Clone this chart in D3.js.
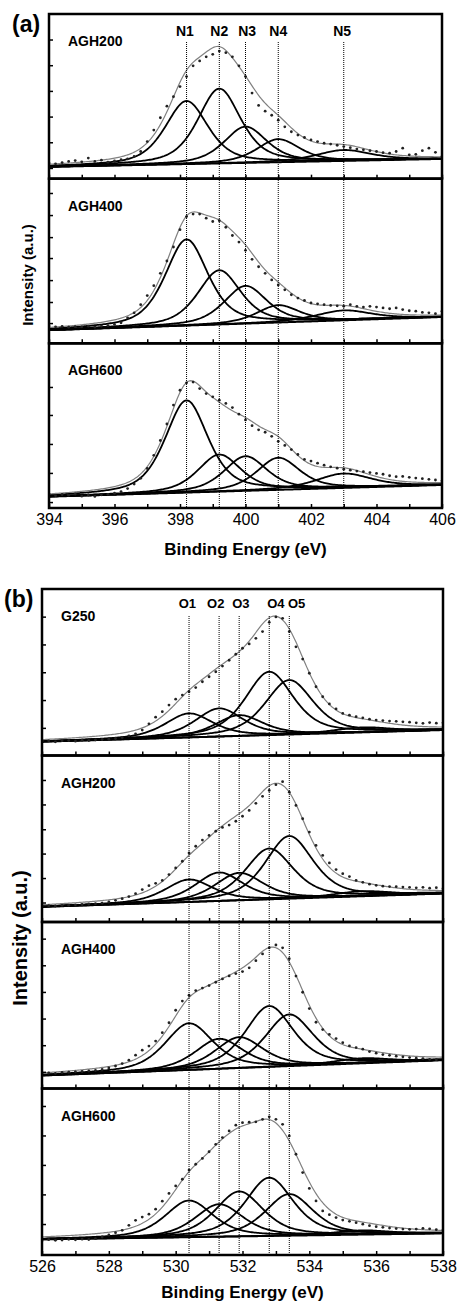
<!DOCTYPE html>
<html>
<head>
<meta charset="utf-8">
<script src="https://cdnjs.cloudflare.com/ajax/libs/d3/7.8.5/d3.min.js"></script>
<style>
body{margin:0;background:#fff;}
text{font-family:"Liberation Sans",Arial,sans-serif;fill:#000;}
</style>
</head>
<body>
<script>
// ---------- N 1s (panel a) : measured points every 0.2 eV from 394 eV ----------
var nStart = 394, nEnd = 406, nStep = 0.2;
var nLabels = ['N1','N2','N3','N4','N5'];
var nLabelPos = [398.15, 399.2, 400.05, 401.0, 402.95];
var nCenters = [398.2, 399.2, 400.0, 401.0, 403.0];
var nFwhm = [1.55, 1.55, 1.55, 1.55, 2.0];

var agh200N = [9.5,9.0,9.8,10.5,11.0,10.2,12.5,10.5,11.2,10.0,10.8,11.5,12.0,13.5,16.5,22.5,29.5,37.0,44.0,49.8,
  55.9,62.0,68.5,71.5,74.0,75.5,77.5,76.5,74.0,68.5,62.0,52.0,44.5,41.0,38.5,35.5,31.5,28.5,26.5,25.0,
  23.5,22.5,21.5,21.0,20.3,19.5,18.8,18.0,17.5,17.0,16.5,15.8,15.5,16.5,18.5,14.5,14.8,17.0,18.5,16.0,13.5];
var agh400N = [10.5,10.0,10.3,9.8,10.2,10.0,10.4,9.9,10.5,10.8,11.5,12.5,15.5,18.5,23.5,29.0,35.0,42.5,50.0,58.5,
  69.0,77.0,78.5,78.5,76.0,74.0,74.5,70.5,65.5,61.5,56.5,51.0,46.5,42.5,38.5,35.5,32.5,29.5,27.5,26.0,
  24.5,24.0,23.5,23.0,22.8,22.5,23.5,22.5,22.0,22.5,22.0,21.5,21.0,21.5,20.5,19.8,19.5,18.8,18.5,18.0,19.5];
var agh600N = [8.5,7.5,8.2,7.8,8.5,7.2,7.9,7.0,8.0,8.3,9.0,10.0,11.8,14.5,18.0,24.0,32.0,41.0,51.0,62.5,
  71.5,76.0,76.5,72.5,69.5,67.5,65.5,63.5,61.0,57.0,53.5,50.0,47.5,46.0,43.5,40.5,38.0,35.5,32.5,29.5,
  28.5,27.2,26.0,25.0,24.2,23.6,23.0,22.4,22.0,21.5,21.0,20.5,19.6,19.0,19.2,18.6,18.2,17.8,17.4,17.0,16.5];

// fitted component heights (above background) and background end values
var agh200NPeaks = [38.3, 45.4, 22.0, 14.0, 6.6];
var agh400NPeaks = [52.3, 32.9, 22.9, 10.5, 6.0];
var agh600NPeaks = [56.0, 22.5, 21.0, 19.5, 8.7];
var agh200NBg = [7.2, 12.0];
var agh400NBg = [8.0, 16.0];
var agh600NBg = [6.9, 14.0];
var agh200NYTicks = [6.5, 22.1, 37.7, 53.3, 68.9, 84.5];
var agh400NYTicks = [12.3, 25.1, 38.4, 51.8, 64.5, 77.9, 91.3];
var agh600NYTicks = [3.6, 21.3, 38.9, 56.5, 73.5];

// ---------- O 1s (panel b) : measured points every 0.2 eV from 526 eV ----------
var oStart = 526, oEnd = 538, oStep = 0.2;
var oLabels = ['O1','O2','O3','O4','O5'];
var oLabelPos = [530.35, 531.2, 531.95, 533.0, 533.62];
var oCenters = [530.4, 531.3, 531.9, 532.8, 533.4, 535.6];
var oFwhm = [1.7, 1.7, 1.7, 1.7, 1.7, 2.0];

var g250O = [8.5,8.8,8.2,8.9,9.0,8.6,9.2,9.0,9.4,9.6,9.8,10.2,10.8,11.8,13.0,15.3,19.0,23.0,26.3,30.3,
  33.8,36.3,38.3,40.8,44.3,47.3,50.3,53.7,57.2,60.8,64.4,67.0,70.4,74.4,80.0,83.2,82.4,74.4,65.3,57.9,
  49.4,41.3,35.3,31.0,28.0,25.3,24.2,23.3,22.6,21.8,21.3,21.0,20.7,20.5,20.2,20.0,19.6,19.3,19.8,19.4,19.6];
var agh200O = [9.5,9.8,9.6,10.0,10.1,10.3,10.5,10.8,11.0,11.3,12.0,13.0,14.0,15.3,17.0,19.5,21.8,23.2,25.0,28.5,
  32.5,36.5,41.5,45.5,49.2,52.0,54.5,56.8,58.2,60.5,63.5,67.0,71.3,75.5,79.0,82.5,84.3,78.0,70.0,62.0,
  54.0,46.0,40.0,35.5,31.5,29.0,27.3,25.0,23.8,22.7,22.0,21.5,21.3,21.2,21.0,20.8,20.5,20.8,20.3,20.6,20.0];
var agh400O = [9.0,9.3,9.1,9.6,9.8,10.0,10.2,10.5,10.8,11.4,12.3,13.5,15.0,17.0,20.0,23.0,25.5,28.5,33.5,39.5,
  47.0,52.5,56.0,58.8,60.3,61.8,63.8,65.8,67.6,69.0,70.2,72.5,76.8,80.8,84.5,86.2,84.5,78.0,67.5,57.8,
  48.0,39.8,35.4,32.5,30.0,27.5,25.6,24.6,23.6,22.2,21.2,20.4,19.9,19.4,19.0,18.6,18.2,18.0,17.5,17.3,17.0];
var agh600O = [8.5,9.2,8.8,9.0,9.4,9.1,9.5,9.3,9.8,10.8,12.0,13.4,14.8,17.8,20.8,22.8,24.5,27.5,32.3,37.0,
  41.5,45.5,51.0,54.5,58.0,62.0,66.5,70.5,74.5,78.0,79.5,79.8,80.0,81.5,83.0,81.5,78.5,71.5,60.5,49.5,
  40.0,32.5,26.5,24.2,22.5,21.0,20.2,19.4,18.5,17.6,17.0,16.6,16.2,15.9,15.6,15.4,15.6,16.0,15.7,15.2,15.0];

var g250OPeaks = [14.4, 16.9, 12.5, 38.0, 32.7, 3.0];
var agh200OPeaks = [13.5, 17.1, 16.5, 30.5, 37.6, 3.0];
var agh400OPeaks = [28.0, 18.0, 18.5, 36.5, 31.0, 3.0];
var agh600OPeaks = [22.0, 19.5, 27.0, 35.0, 25.0, 2.5];
var g250OBg = [8.3, 15.3];
var agh200OBg = [9.1, 17.1];
var agh400OBg = [7.8, 17.0];
var agh600OBg = [9.4, 13.0];
var g250OYTicks = [16.6, 33.3, 50.0, 66.7, 83.4];
var agh200OYTicks = [11.7, 26.4, 41.1, 55.7, 70.6, 85.3];
var agh400OYTicks = [10.0, 26.0, 42.0, 58.0, 74.0, 90.0];
var agh600OYTicks = [18.6, 36.4, 54.1, 71.8, 89.5];

var ETA = 0.55; // lorentzian share of the line shape

var svg = d3.select('body').append('svg')
    .attr('width', 459)
    .attr('height', 1303);

function voigt(e, c, h, w){
  var d = (e - c) / w;
  return h * ((1 - ETA) * Math.exp(-4 * Math.LN2 * d * d) + ETA / (1 + 4 * d * d));
}

var clipId = 0;
function drawSub(x, top, bottom, name, data, start, step, centers, fwhm, peaks, bg, yticks, showLabels){
  var y = d3.scaleLinear().domain([0, 100]).range([bottom, top]);
  var e0 = x.domain()[0], e1 = x.domain()[1];
  var base = function(e){ return bg[0] + (bg[1] - bg[0]) * (e - e0) / (e1 - e0); };
  var grid = d3.range(e0, e1 + 0.001, 0.04);
  var line = d3.line().x(function(d){ return x(d[0]); }).y(function(d){ return y(d[1]); });

  clipId++;
  svg.append('clipPath').attr('id', 'clip' + clipId)
    .append('rect').attr('x', x.range()[0]).attr('y', top)
    .attr('width', x.range()[1] - x.range()[0]).attr('height', bottom - top);
  var g = svg.append('g').attr('clip-path', 'url(#clip' + clipId + ')');

  // background
  g.append('path').datum(grid.map(function(e){ return [e, base(e)]; }))
    .attr('d', line).attr('fill', 'none').attr('stroke', '#000').attr('stroke-width', 2);

  // components
  peaks.forEach(function(h, k){
    g.append('path')
      .datum(grid.map(function(e){ return [e, base(e) + voigt(e, centers[k], h, fwhm[k])]; }))
      .attr('d', line).attr('fill', 'none').attr('stroke', '#000').attr('stroke-width', 1.8);
  });

  // envelope
  g.append('path')
    .datum(grid.map(function(e){
      var s = base(e);
      peaks.forEach(function(h, k){ s += voigt(e, centers[k], h, fwhm[k]); });
      return [e, s];
    }))
    .attr('d', line).attr('fill', 'none').attr('stroke', '#808080').attr('stroke-width', 1.2);

  // measured points
  g.selectAll('circle.pt').data(data).enter().append('circle')
    .attr('class', 'pt')
    .attr('cx', function(d, i){ return x(start + i * step); })
    .attr('cy', function(d){ return y(d); })
    .attr('r', 1.4)
    .attr('fill', '#222');

  // axes (ticks inside)
  var xa = svg.append('g').attr('transform', 'translate(0,' + bottom + ')')
    .call(d3.axisBottom(x).tickValues(d3.range(e0, e1 + 0.5, 1)).tickSize(-4).tickPadding(6)
      .tickFormat(function(v){ return showLabels && v % 2 === 0 ? v : ''; }));
  xa.select('.domain').remove();
  xa.selectAll('line').attr('stroke', '#000').attr('stroke-width', 1.5);
  xa.selectAll('text').style('font-size', '16px').style('font-family', '"Liberation Sans",Arial,sans-serif');

  var ya = svg.append('g').attr('transform', 'translate(' + x.range()[0] + ',0)')
    .call(d3.axisLeft(y).tickValues(yticks).tickSize(-4).tickFormat(''));
  ya.select('.domain').remove();
  ya.selectAll('line').attr('stroke', '#000').attr('stroke-width', 1.5);

  svg.append('rect')
    .attr('x', x.range()[0]).attr('y', top)
    .attr('width', x.range()[1] - x.range()[0]).attr('height', bottom - top)
    .attr('fill', 'none').attr('stroke', '#000').attr('stroke-width', 2.5);

  svg.append('text').attr('x', x.range()[0] + 19).attr('y', top + 32)
    .style('font-size', '14px').style('font-weight', 'bold').text(name);
}

// ---------- panel (a) ----------
var xA = d3.scaleLinear().domain([nStart, nEnd]).range([49, 442]);
var aTop = 14, aBot = 508, aH = (aBot - aTop) / 3;
var aNames = ['AGH200', 'AGH400', 'AGH600'];
var aData = [agh200N, agh400N, agh600N];
var aPeaks = [agh200NPeaks, agh400NPeaks, agh600NPeaks];
var aBg = [agh200NBg, agh400NBg, agh600NBg];
var aYT = [agh200NYTicks, agh400NYTicks, agh600NYTicks];
for(var i = 0; i < 3; i++){
  drawSub(xA, aTop + i * aH, aTop + (i + 1) * aH, aNames[i], aData[i], nStart, nStep,
    nCenters, nFwhm, aPeaks[i], aBg[i], aYT[i], i === 2);
}
svg.selectAll('line.na').data(nCenters).enter().append('line')
  .attr('class', 'na')
  .attr('x1', function(d){ return xA(d); }).attr('x2', function(d){ return xA(d); })
  .attr('y1', 42).attr('y2', aBot)
  .attr('stroke', '#000').attr('stroke-width', 1).attr('stroke-dasharray', '1,1');
svg.selectAll('text.na').data(nLabels).enter().append('text')
  .attr('class', 'na')
  .attr('x', function(d, i){ return xA(nLabelPos[i]); }).attr('y', 36)
  .attr('text-anchor', 'middle').style('font-size', '14px').style('font-weight', 'bold')
  .text(function(d){ return d; });

svg.append('text').attr('x', 12).attr('y', 32).style('font-size', '23px').style('font-weight', 'bold').text('(a)');
svg.append('text').attr('transform', 'translate(33,275) rotate(-90)').attr('text-anchor', 'middle')
  .style('font-size', '15px').style('font-weight', 'bold').text('Intensity (a.u.)');
svg.append('text').attr('x', (xA.range()[0] + xA.range()[1]) / 2).attr('y', 555).attr('text-anchor', 'middle')
  .style('font-size', '17px').style('font-weight', 'bold').text('Binding Energy (eV)');

// ---------- panel (b) ----------
var xB = d3.scaleLinear().domain([oStart, oEnd]).range([42, 443]);
var bTop = 589, bBot = 1255, bH = (bBot - bTop) / 4;
var bNames = ['G250', 'AGH200', 'AGH400', 'AGH600'];
var bData = [g250O, agh200O, agh400O, agh600O];
var bPeaks = [g250OPeaks, agh200OPeaks, agh400OPeaks, agh600OPeaks];
var bBg = [g250OBg, agh200OBg, agh400OBg, agh600OBg];
var bYT = [g250OYTicks, agh200OYTicks, agh400OYTicks, agh600OYTicks];
for(var j = 0; j < 4; j++){
  drawSub(xB, bTop + j * bH, bTop + (j + 1) * bH, bNames[j], bData[j], oStart, oStep,
    oCenters, oFwhm, bPeaks[j], bBg[j], bYT[j], j === 3);
}
svg.selectAll('line.ob').data(oCenters.slice(0, 5)).enter().append('line')
  .attr('class', 'ob')
  .attr('x1', function(d){ return xB(d); }).attr('x2', function(d){ return xB(d); })
  .attr('y1', 616).attr('y2', bBot)
  .attr('stroke', '#000').attr('stroke-width', 1).attr('stroke-dasharray', '1,1');
svg.selectAll('text.ob').data(oLabels).enter().append('text')
  .attr('class', 'ob')
  .attr('x', function(d, i){ return xB(oLabelPos[i]); }).attr('y', 608)
  .attr('text-anchor', 'middle').style('font-size', '13px').style('font-weight', 'bold')
  .text(function(d){ return d; });

svg.append('text').attr('x', 4).attr('y', 607).style('font-size', '23px').style('font-weight', 'bold').text('(b)');
svg.append('text').attr('transform', 'translate(27,938) rotate(-90)').attr('text-anchor', 'middle')
  .style('font-size', '20px').style('font-weight', 'bold').text('Intensity (a.u.)');
svg.append('text').attr('x', (xB.range()[0] + xB.range()[1]) / 2).attr('y', 1298).attr('text-anchor', 'middle')
  .style('font-size', '17px').style('font-weight', 'bold').text('Binding Energy (eV)');
</script>
</body>
</html>
